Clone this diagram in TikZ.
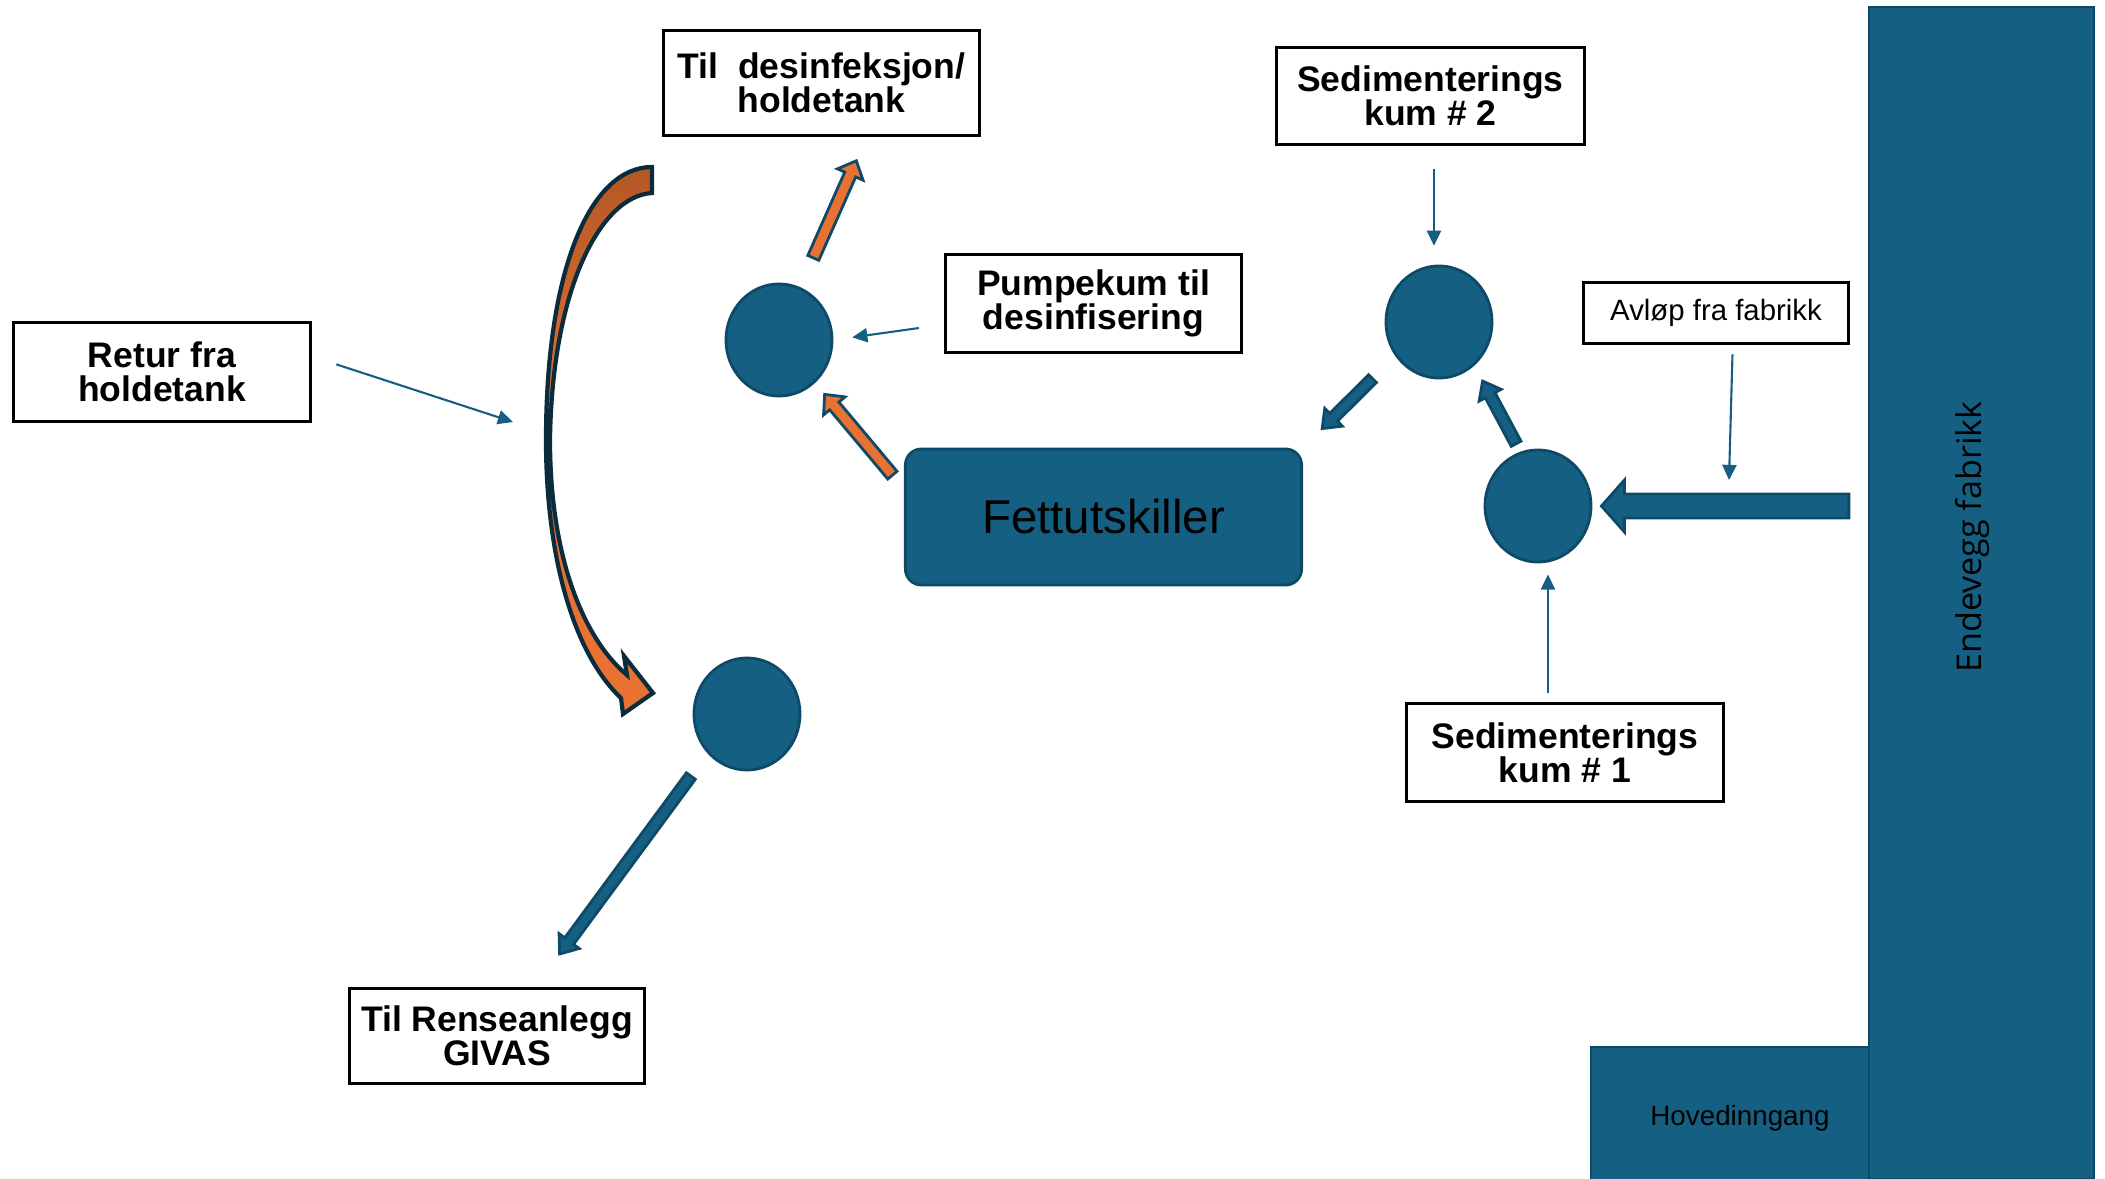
\documentclass[tikz,border=0pt]{standalone}
\usepackage{fontspec}
\setmainfont{Liberation Sans}
\newfontfamily\wallfont{Open Sans}
\usetikzlibrary{arrows.meta,calc,shapes.geometric}

\definecolor{accblue}{HTML}{156082}
\definecolor{dkblue}{HTML}{0E4A68}
\definecolor{accorange}{HTML}{E97132}
\definecolor{dkorange}{HTML}{B45826}
\definecolor{navy}{HTML}{0A2C3D}

\tikzset{
  lbl/.style={draw, line width=0.85pt, fill=white, align=center, inner sep=0pt,
    font=\bfseries\fontsize{10.1}{9.6}\selectfont},
  kum/.style={ellipse, draw=dkblue, line width=0.8pt, fill=accblue, inner sep=0pt,
    minimum width=1.06cm, minimum height=1.12cm},
  tarrow/.style={draw=accblue, line width=0.6pt, -{Triangle[length=4.3pt,width=4pt]}},
  shaftw/.store in=\shaftw, headw/.store in=\headw, headl/.store in=\headl,
  gapa/.store in=\gapa, gapb/.store in=\gapb,
  barrow/.style={draw=dkblue, line width=0.8pt, line join=miter,
    shaftw=0.055cm, headw=0.125cm, headl=0.16cm, gapa=0cm, gapb=0cm,
    to path={let \p1=($(\tikztostart)!\gapa!(\tikztotarget)$),
      \p2=($(\tikztotarget)!\gapb!(\tikztostart)$),
      \p3=($(\p2)!\headl!(\p1)$) in
      ($(\p1)!\shaftw!90:(\p2)$) -- ($(\p3)!\shaftw!90:(\p2)$) -- ($(\p3)!\headw!90:(\p2)$)
      -- (\p2) -- ($(\p3)!\headw!-90:(\p2)$) -- ($(\p3)!\shaftw!-90:(\p2)$)
      -- ($(\p1)!\shaftw!-90:(\p2)$) -- cycle}},
  orangearr/.style={fill=accorange},
  bluearr/.style={fill=accblue}
}

\begin{document}
\begin{tikzpicture}[x=0.01cm, y=-0.01cm]
\useasboundingbox (0,0) rectangle (2105,1179);

\node[draw=dkblue, line width=0.6pt, fill=accblue, inner sep=0pt,
  minimum width=2.98cm, minimum height=1.43cm, font=\fontsize{7.9}{9}\selectfont] (hoved) at (1740,1118.5) {Hovedinngang};
\node[draw=dkblue, line width=0.6pt, fill=accblue, inner sep=0pt,
  minimum width=2.25cm, minimum height=11.72cm] (wall) at (1981.5,593) {};
\node[rotate=90, font=\wallfont\fontsize{9.7}{11}\selectfont] (wallText) at (1973,537) {Endevegg fabrikk};

\node[draw=dkblue, line width=0.8pt, fill=accblue, rounded corners=0.16cm,
  minimum width=3.96cm, minimum height=1.36cm, font=\fontsize{13.5}{16}\selectfont] (fett) at (1103.5,517) {Fettutskiller};

\node[kum] (cPump) at (779,340) {};
\node[kum] (cSed2) at (1439,322) {};
\node[kum] (cSed1) at (1538,506) {};
\node[kum] (cOut) at (747,714) {};

\node[lbl, minimum width=3.16cm, minimum height=1.05cm] (tilDes) at (821.5,83) {Til~ desinfeksjon/\\holdetank};
\node[lbl, minimum width=3.07cm, minimum height=0.96cm] (sed2box) at (1430.5,96) {Sedimenterings\\kum \# 2};
\node[lbl, minimum width=2.96cm, minimum height=0.97cm] (pumpekum) at (1093.5,303.5) {Pumpekum til\\desinfisering};
\node[lbl, font=\fontsize{8.35}{10}\selectfont, minimum width=2.65cm, minimum height=0.60cm] (avlop) at (1716,313) {Avløp fra fabrikk};
\node[lbl, minimum width=2.96cm, minimum height=0.98cm] (retur) at (162,372) {Retur fra\\holdetank};
\node[lbl, minimum width=2.95cm, minimum height=0.95cm] (givas) at (497,1036) {Til Renseanlegg\\GIVAS};
\node[lbl, minimum width=3.16cm, minimum height=0.97cm] (sed1box) at (1565,752.5) {Sedimenterings\\kum \# 1};

\coordinate (curveIn) at (513,422);
\coordinate (avlopEnd) at (1729,480);
\coordinate (wallIn) at (cSed1.east -| wall.west);

\draw[draw=navy, line width=1.2pt, line join=miter, top color=dkorange, bottom color=accorange, middle color=accorange]
  (652,193) .. controls (600,196) and (552,290) .. (550,440)
  .. controls (550,560) and (585,640) .. (627,675)
  -- (624,656) -- (653,693) -- (623,714) -- (621,698)
  .. controls (575,655) and (546,560) .. (546,440)
  .. controls (546,270) and (590,167) .. (652,167) -- cycle;

\draw[barrow, orangearr, shaftw=0.06cm, headw=0.14cm, headl=0.15cm, gapa=0.32cm, gapb=0.26cm] (cPump.68) to (tilDes.-50);
\draw[barrow, orangearr, shaftw=0.06cm, headw=0.14cm, headl=0.15cm, gapa=0.18cm, gapb=0.71cm] (fett.172) to (cPump.center);
\draw[barrow, bluearr, gapa=0.28cm, gapb=0.41cm] (cOut.-135) to (givas.52.5);
\draw[barrow, bluearr, gapa=0.32cm, gapb=0.27cm] (cSed2.-142) to (fett.north east);
\draw[barrow, bluearr, gapa=0.09cm, gapb=0.175cm] (cSed1.108) to (cSed2.-51.5);
\draw[barrow, bluearr, shaftw=0.12cm, headw=0.26cm, headl=0.23cm, gapa=0.19cm, gapb=0.09cm] (wallIn) to (cSed1.east);

\draw[tarrow, shorten <=7.2pt, shorten >=5.4pt] (pumpekum.188) -- (cPump.0);
\draw[tarrow, shorten <=7.4pt] (retur.6) -- (curveIn);
\draw[tarrow, shorten <=2.8pt] (avlop.-62) -- (avlopEnd);
\draw[tarrow, shorten <=6.8pt, shorten >=5.4pt] (sed2box.south -| cSed2.95) -- (cSed2.95);
\draw[tarrow, shorten <=2.6pt, shorten >=3.4pt] (sed1box.north -| cSed1.-80) -- (cSed1.-80);
\end{tikzpicture}
\end{document}
